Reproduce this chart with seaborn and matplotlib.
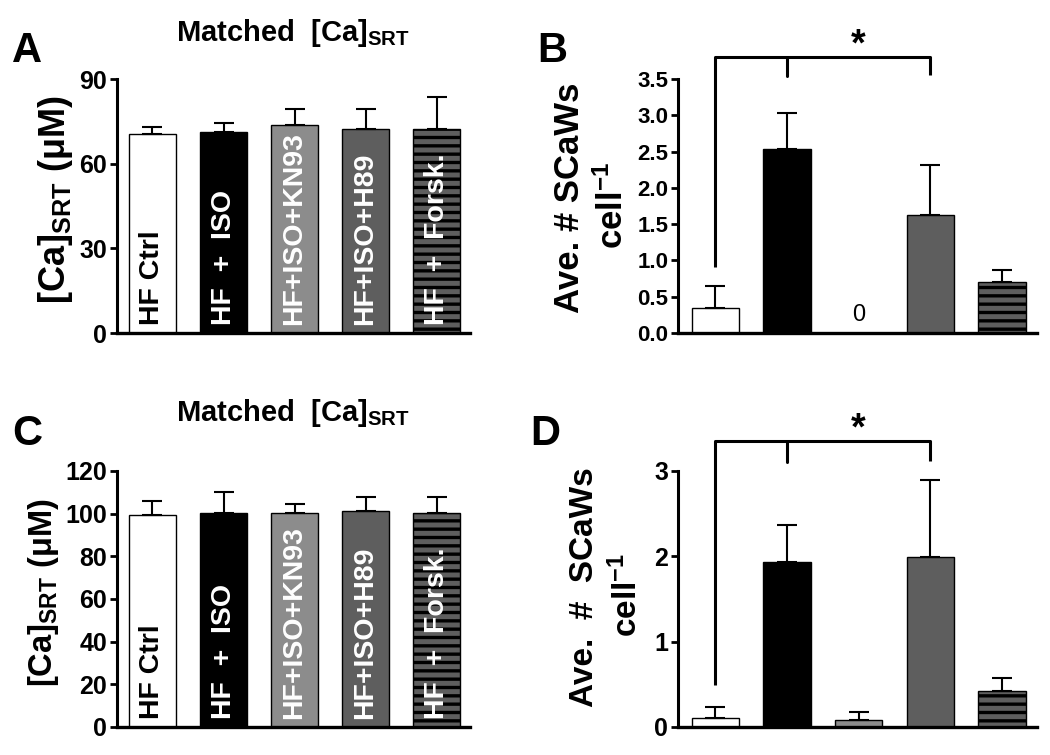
import matplotlib
matplotlib.use("Agg")
import matplotlib.pyplot as plt
import numpy as np
import pandas as pd
import seaborn as sns
from matplotlib.ticker import FormatStrFormatter

sns.set_theme(style="ticks")
plt.rcParams['font.family'] = ['Liberation Sans', 'DejaVu Sans']
plt.rcParams['font.weight'] = 'bold'
plt.rcParams['text.color'] = 'black'
plt.rcParams['axes.edgecolor'] = 'black'
plt.rcParams['ytick.color'] = 'black'
plt.rcParams['xtick.color'] = 'black'
plt.rcParams['mathtext.fontset'] = 'custom'
plt.rcParams['mathtext.rm'] = 'Liberation Sans'
plt.rcParams['mathtext.bf'] = 'Liberation Sans:bold'
plt.rcParams['mathtext.it'] = 'Liberation Sans:italic'
plt.rcParams['mathtext.default'] = 'bf'
plt.rcParams['hatch.linewidth'] = 2.4
plt.rcParams['hatch.color'] = 'black'

# data
groups = ["HF Ctrl", "HF + ISO", "HF+ISO+KN93", "HF+ISO+H89", "HF + Forsk."]
bar_labels = ["HF Ctrl", "HF  +  ISO", "HF+ISO+KN93", "HF+ISO+H89", "HF  +  Forsk."]
bar_colors = ["#ffffff", "#000000", "#8c8c8c", "#5e5e5e", "#5e5e5e"]
label_colors = ["black", "white", "white", "white", "white"]

ca_a = [70.5, 71.3, 73.8, 72.4, 72.4]
ca_a_sem = [2.5, 3.1, 5.6, 7.0, 11.3]
scaw_b = [0.35, 2.54, 0.0, 1.63, 0.71]
scaw_b_sem = [0.30, 0.49, 0.0, 0.69, 0.16]
ca_c = [99.5, 100.5, 100.5, 101.4, 100.5]
ca_c_sem = [6.4, 9.5, 3.9, 6.6, 7.3]
scaw_d = [0.11, 1.93, 0.08, 1.99, 0.42]
scaw_d_sem = [0.12, 0.44, 0.09, 0.90, 0.15]


def draw_bars(ax, vals, sems, ylim, yticks, tick_size, xlim, fmt=None, inner=False):
    df = pd.DataFrame({"group": groups, "value": vals})
    sns.barplot(data=df, x="group", y="value", hue="group", order=groups,
                hue_order=groups, palette=dict(zip(groups, bar_colors)),
                saturation=1, width=0.66, edgecolor="black", linewidth=1,
                legend=False, ax=ax)
    for bar in ax.patches:
        idx = int(round(bar.get_x() + bar.get_width() / 2))
        if idx == 4:
            bar.set_hatch("--")
    x = np.arange(len(groups))
    v = np.array(vals)
    s = np.array(sems)
    keep = s > 0
    ax.errorbar(x[keep], v[keep], yerr=[np.zeros(keep.sum()), s[keep]],
                fmt="none", ecolor="black", elinewidth=1.5, capsize=7,
                capthick=1.5, zorder=3)
    if inner:
        for i, lab in enumerate(bar_labels):
            ax.text(i, 0.03, lab, rotation=90, ha="center", va="bottom",
                    color=label_colors[i], fontsize=20.5, fontweight="bold",
                    transform=ax.get_xaxis_transform(), zorder=4)
    ax.set_ylim(*ylim)
    ax.set_xlim(*xlim)
    ax.set_yticks(yticks)
    if fmt:
        ax.yaxis.set_major_formatter(FormatStrFormatter(fmt))
    ax.set_xticks([])
    ax.set_xlabel("")
    ax.set_ylabel("")
    sns.despine(ax=ax)
    ax.spines["left"].set_linewidth(2.2)
    ax.spines["bottom"].set_linewidth(2.4)
    ax.tick_params(axis="y", width=2, length=5, labelsize=tick_size, pad=2)
    for t in ax.get_yticklabels():
        t.set_fontweight("bold")


def bracket(ax, left_y, top_y, mid_y, right_y, star_y):
    ax.plot([0, 0, 3, 3], [left_y, top_y, top_y, right_y], color="black",
            lw=2.2, clip_on=False, solid_capstyle="butt")
    ax.plot([1, 1], [top_y, mid_y], color="black", lw=2.2, clip_on=False)
    ax.text(2, star_y, "*", ha="center", va="baseline", fontsize=27,
            fontweight="bold", clip_on=False)


fig = plt.figure(figsize=(10.5, 7.55), dpi=100)
ax_a = fig.add_axes([0.1114, 0.5589, 0.3362, 0.3364])
ax_b = fig.add_axes([0.6457, 0.5589, 0.3419, 0.3364])
ax_c = fig.add_axes([0.1114, 0.0371, 0.3362, 0.3391])
ax_d = fig.add_axes([0.6457, 0.0371, 0.3419, 0.3391])

draw_bars(ax_a, ca_a, ca_a_sem, (0, 90), [0, 30, 60, 90], 18, (-0.5, 4.47), inner=True)
draw_bars(ax_b, scaw_b, scaw_b_sem, (0, 3.5), np.arange(0, 3.51, 0.5), 16,
          (-0.52, 4.49), fmt="%.1f")
draw_bars(ax_c, ca_c, ca_c_sem, (0, 120), [0, 20, 40, 60, 80, 100, 120], 18,
          (-0.5, 4.47), inner=True)
draw_bars(ax_d, scaw_d, scaw_d_sem, (0, 3), [0, 1, 2, 3], 18, (-0.52, 4.49))

ax_b.text(2, 0.25, "0", ha="center", va="center", fontsize=17, fontweight="normal")
bracket(ax_b, 0.91, 3.80, 3.54, 3.55, 3.82)
bracket(ax_d, 0.49, 3.35, 3.10, 3.12, 3.37)

# titles
title = "Matched  [Ca]$_{SRT}$"
fig.text(0.279, 0.956, title, ha="center", va="center", fontsize=21, fontweight="bold")
fig.text(0.279, 0.453, title, ha="center", va="center", fontsize=21, fontweight="bold")

# y labels
fig.text(0.053, 0.735, "[Ca]$_{SRT}$ (μM)", rotation=90, ha="center", va="center",
         fontsize=26, fontweight="bold")
fig.text(0.041, 0.2146, "[Ca]$_{SRT}$ (μM)", rotation=90, ha="center", va="center",
         fontsize=23.5, fontweight="bold")
fig.text(0.542, 0.738, "Ave. # SCaWs", rotation=90, ha="center", va="center",
         fontsize=25, fontweight="bold")
fig.text(0.583, 0.728, "cell$^{-1}$", rotation=90, ha="center", va="center",
         fontsize=25, fontweight="bold")
fig.text(0.557, 0.222, "Ave.  #  SCaWs", rotation=90, ha="center", va="center",
         fontsize=24, fontweight="bold")
fig.text(0.597, 0.212, "cell$^{-1}$", rotation=90, ha="center", va="center",
         fontsize=24, fontweight="bold")

# panel letters
for letter, xx, yy in [("A", 0.0114, 0.918), ("B", 0.512, 0.918),
                       ("C", 0.012, 0.411), ("D", 0.505, 0.411)]:
    fig.text(xx, yy, letter, ha="left", va="baseline", fontsize=30, fontweight="bold")

fig.savefig("out.png", dpi=100, facecolor="white")
